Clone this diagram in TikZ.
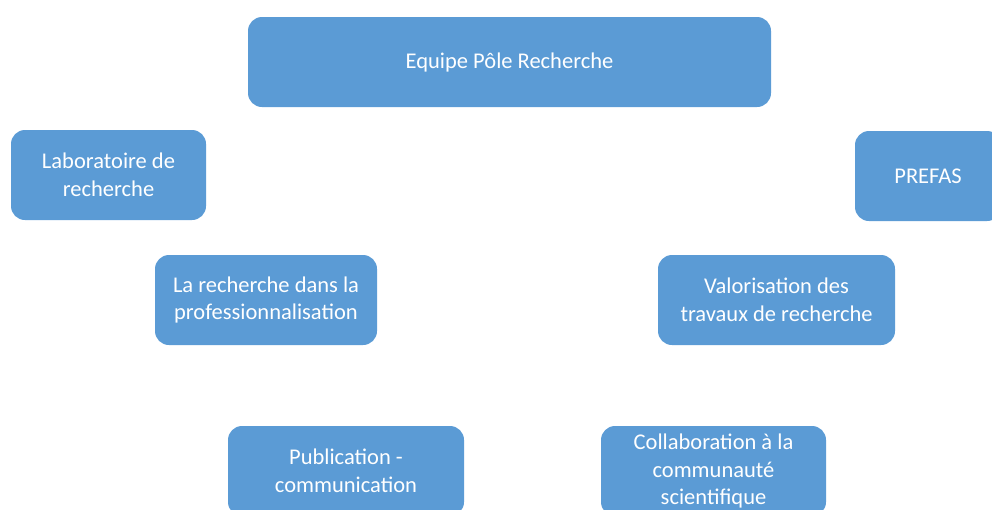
\documentclass[tikz,border=0pt]{standalone}
\usepackage{fontspec}
\setmainfont{Carlito}
\definecolor{boxblue}{HTML}{5B9BD5}
\tikzset{
    pole/.style={fill=boxblue, text=white, rounded corners=14pt, align=center,
        minimum height=90pt, inner sep=0pt,
        font=\fontsize{22.5}{27.5}\selectfont},
}

\begin{document}
\begin{tikzpicture}[x=1pt,y=-1pt]
\useasboundingbox (0,0) rectangle (992,509);

\node[pole, minimum width=523pt] (equipe) at (509.5,62) {Equipe Pôle Recherche};
\node[pole, minimum width=195pt] (labo) at (108.5,175) {Laboratoire de\\recherche};
\node[pole, minimum width=146pt] (prefas) at (928,176) {PREFAS};
\node[pole, minimum width=222pt] (prof) at (266,300) {La recherche dans la\\professionnalisation};
\node[pole, minimum width=237pt] (valo) at (776.5,300) {Valorisation des\\travaux de recherche};
\node[pole, minimum width=236pt] (publi) at (346,471) {Publication -\\communication};
\node[pole, minimum width=225pt] (collab) at (713.5,471) {Collaboration à la\\communauté\\scientifique};
\end{tikzpicture}
\end{document}
